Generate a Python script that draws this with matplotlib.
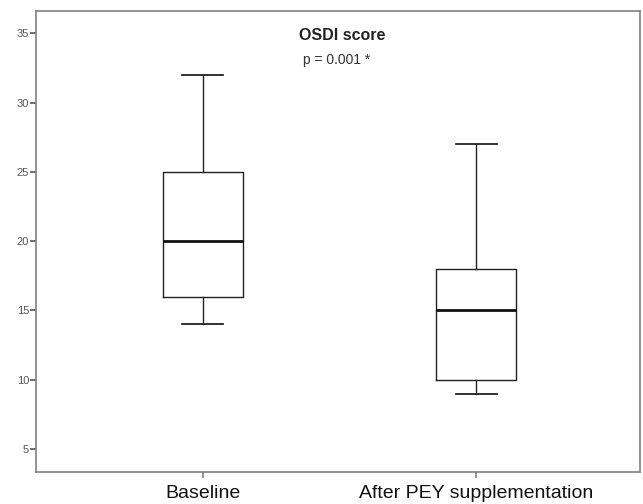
import matplotlib
matplotlib.use("Agg")
import matplotlib.pyplot as plt

plt.rcParams['font.family'] = ['Liberation Sans', 'DejaVu Sans']

# group labels and box summary values
groups = ['Baseline', 'After PEY supplementation']
whisker_lo = [14, 9]
q1 = [16, 10]
median = [20, 15]
q3 = [25, 18]
whisker_hi = [32, 27]

stats = []
for i in range(len(groups)):
    stats.append({'label': groups[i], 'whislo': whisker_lo[i], 'q1': q1[i],
                  'med': median[i], 'q3': q3[i], 'whishi': whisker_hi[i],
                  'fliers': []})

fig = plt.figure(figsize=(6.43, 5.04), dpi=100)
ax = fig.add_axes([36 / 643, 32 / 504, 604 / 643, 461 / 504])

ax.bxp(stats, positions=[1, 2], widths=0.29, showfliers=False,
       boxprops=dict(color='#222222', linewidth=1.0),
       whiskerprops=dict(color='#222222', linewidth=1.0),
       capprops=dict(color='#222222', linewidth=1.3),
       medianprops=dict(color='#111111', linewidth=2.0),
       capwidths=0.15)

ax.set_xlim(0.389, 2.60)
ax.set_ylim(3.35, 36.6)
ax.set_yticks([5, 10, 15, 20, 25, 30, 35])
ax.set_xticks([1, 2])
ax.set_xticklabels(groups, fontsize=14)

for s in ax.spines.values():
    s.set_color('#808080')
    s.set_linewidth(1.2)
ax.tick_params(axis='y', labelsize=8, colors='#555555', length=4, width=1.2, pad=1)
ax.tick_params(axis='x', length=4, width=1.2, color='#808080', labelcolor='#111111', pad=5)

ax.text(0.507, 0.946, 'OSDI score', transform=ax.transAxes, ha='center',
        va='center', fontsize=11.5, fontweight='bold', color='#222222')
ax.text(0.497, 0.894, 'p = 0.001 *', transform=ax.transAxes, ha='center',
        va='center', fontsize=10, color='#333333')

fig.savefig('out.png', dpi=100)
